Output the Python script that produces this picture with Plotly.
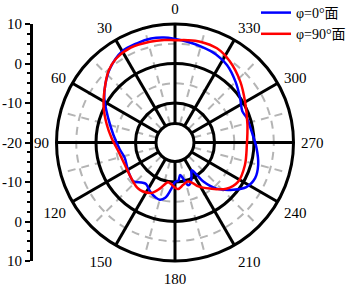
import plotly.graph_objects as go

# ---- data ----
theta_phi0 = [0, 6, 13, 21, 30, 41, 50, 58, 70, 83, 97, 107, 115, 122, 133, 140, 145, 153, 160, 165,
              170, 175, 180, 185, 189, 193, 197, 201, 206, 211, 214, 216, 222, 231, 238, 246, 255,
              266, 278, 289, 295, 304, 315, 326, 335, 345, 353, 360]
gain_phi0 = [6.2, 6.7, 7.0, 6.9, 6.7, 5.0, 3.0, 1.1, -2.0, -4.3, -5.9, -6.7, -6.5, -6.1, -5.6, -6.8, -7.2,
             -6.1, -5.3, -5.0, -5.8, -8.0, -10.0, -10.3, -11.7, -10.5, -8.7, -9.0, -10.5, -11.8, -10.1,
             -7.8, -4.3, -1.0, 1.3, 2.2, 1.8, 0.7, -0.4, -0.8, -1.2, -0.1, 1.7, 3.6, 4.6, 5.2, 5.7, 6.2]

theta_phi90 = [0, 6, 14, 25, 35, 43, 54, 64, 75, 86, 99, 114, 125, 133, 140, 147, 155, 162, 170, 175,
               180, 184, 191, 198, 204, 208, 217, 228, 238, 252, 268, 284, 300, 313, 326, 336, 346, 353, 360]
gain_phi90 = [5.9, 6.1, 6.3, 6.5, 5.95, 4.7, 2.1, 0.1, -2.1, -3.9, -5.5, -6.1, -5.9, -5.5, -5.1, -5.2,
              -5.9, -7.8, -9.8, -9.4, -8.6, -8.2, -9.1, -9.6, -8.7, -7.4, -5.4, -2.5, -1.2, -1.4, -1.8,
              -1.1, 0.5, 2.6, 4.8, 6.1, 6.3, 6.1, 5.9]

series_names = ["φ=0°面", "φ=90°面"]
series_colors = ["#0000ff", "#ff0000"]

radial_major = [-10, 0, 10]
radial_minor = [-5, 5]
angle_major = list(range(0, 360, 30))
angle_minor = list(range(15, 360, 30))
scale_vals = [30, 20, 10, 0, -10, -20, -30]
scale_text = ["10", "0", "-10", "-20", "-10", "0", "10"]

FONT = "Liberation Serif, Times New Roman, Noto Sans CJK SC, serif"
W, H = 346, 286
cx, cy, R = 175, 142.5, 118.5
HOLE = 19 / R
RMIN = -20 + HOLE * 30

dom_x = [(cx - R) / W, (cx + R) / W]
dom_y = [(H - cy - R) / H, (H - cy + R) / H]

fig = go.Figure()
# carrier for the dashed minor grid subplot (invisible)
fig.add_trace(go.Scatterpolar(r=gain_phi0, theta=theta_phi0, mode="lines", opacity=0,
                              line=dict(width=0), showlegend=False, hoverinfo="skip",
                              subplot="polar"))
# carrier for the left dB scale
fig.add_trace(go.Scatter(x=[], y=[], mode="lines", showlegend=False, hoverinfo="skip",
                         xaxis="x", yaxis="y"))
fig.add_trace(go.Scatterpolar(r=gain_phi0, theta=theta_phi0, mode="lines", name=series_names[0],
                              line=dict(color=series_colors[0], width=2.5, shape="spline"),
                              subplot="polar2"))
fig.add_trace(go.Scatterpolar(r=gain_phi90, theta=theta_phi90, mode="lines", name=series_names[1],
                              line=dict(color=series_colors[1], width=2.5, shape="spline"),
                              subplot="polar2"))

common_ang = dict(rotation=90, direction="counterclockwise")

fig.update_layout(
    width=W, height=H,
    margin=dict(l=0, r=0, t=0, b=0, autoexpand=False),
    paper_bgcolor="white",
    plot_bgcolor="rgba(0,0,0,0)",
    font=dict(family=FONT, size=15, color="black"),
    polar=dict(
        domain=dict(x=dom_x, y=dom_y),
        hole=HOLE,
        bgcolor="white",
        radialaxis=dict(range=[RMIN, 10], tickvals=radial_minor, showticklabels=False,
                        showline=False, ticks="", gridcolor="#b4b4b4", gridwidth=2,
                        griddash="8px,6px"),
        angularaxis=dict(tickvals=angle_minor, showticklabels=False, showline=False, ticks="",
                         gridcolor="#b4b4b4", gridwidth=2, griddash="8px,6px", **common_ang),
    ),
    polar2=dict(
        domain=dict(x=dom_x, y=dom_y),
        hole=HOLE,
        bgcolor="rgba(0,0,0,0)",
        radialaxis=dict(range=[RMIN, 10], tickvals=radial_major, showticklabels=False,
                        showline=False, ticks="", gridcolor="black", gridwidth=2.5,
                        layer="below traces"),
        angularaxis=dict(tickvals=angle_major, showline=True, linecolor="black", linewidth=3,
                         ticks="outside", ticklen=3, tickcolor="rgba(0,0,0,0)",
                         gridcolor="black", gridwidth=2.5, layer="below traces",
                         tickfont=dict(family=FONT, size=15, color="black"), **common_ang),
    ),
    xaxis=dict(domain=[33 / W, 40 / W], visible=False, range=[0, 1], automargin=False),
    yaxis=dict(domain=dom_y, range=[-30, 30], anchor="x", side="left", automargin=False,
               tickvals=scale_vals, ticktext=scale_text, ticks="outside", ticklen=5,
               tickwidth=2, tickcolor="black", showline=True, linecolor="black", linewidth=3,
               showgrid=False, zeroline=False,
               minor=dict(dtick=2.5, ticks="outside", ticklen=3, tickwidth=1.5, tickcolor="black"),
               tickfont=dict(family=FONT, size=15, color="black")),
    legend=dict(x=256 / W, y=1 + 3 / H, xanchor="left", yanchor="top",
                bgcolor="rgba(0,0,0,0)", font=dict(family=FONT, size=14, color="black"),
                tracegroupgap=0, itemwidth=30),
    showlegend=True,
)

fig.write_html("out.html", config={"displayModeBar": False},
               post_script="document.body.style.margin='0';")
